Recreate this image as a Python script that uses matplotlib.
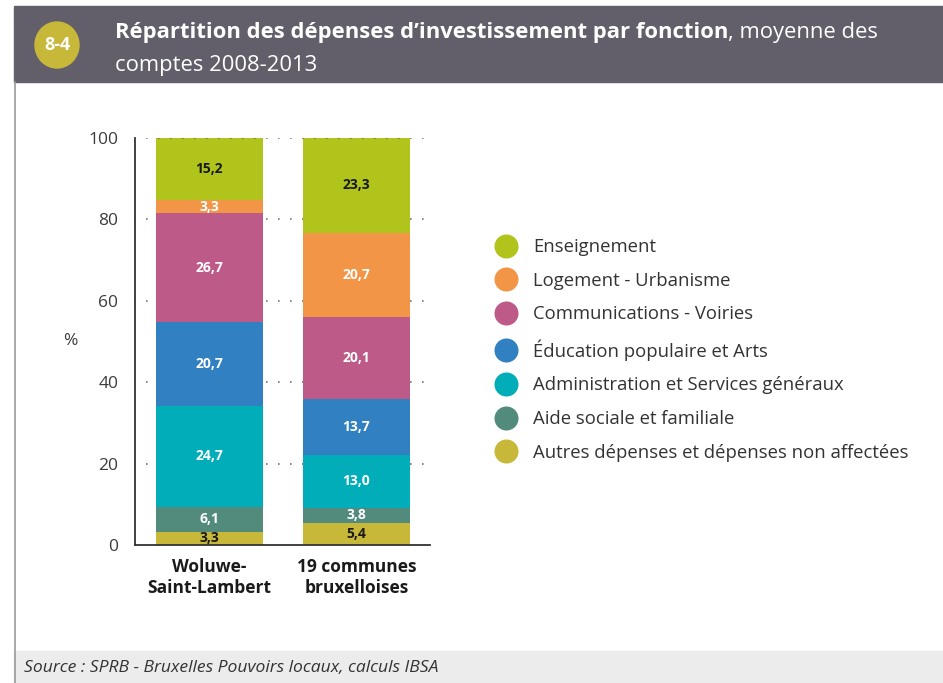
import matplotlib
matplotlib.use("Agg")
import matplotlib.pyplot as plt
from matplotlib import font_manager
from matplotlib.patches import Rectangle, Ellipse
from matplotlib.lines import Line2D
import numpy as np

# ---------------- data ----------------
categories = ["Woluwe-\nSaint-Lambert", "19 communes\nbruxelloises"]
series_names = [
    "Autres dépenses et dépenses non affectées",
    "Aide sociale et familiale",
    "Administration et Services généraux",
    "Éducation populaire et Arts",
    "Communications - Voiries",
    "Logement - Urbanisme",
    "Enseignement",
]
autres = [3.3, 5.4]
aide_sociale = [6.1, 3.8]
administration = [24.7, 13.0]
education = [20.7, 13.7]
communications = [26.7, 20.1]
logement = [3.3, 20.7]
enseignement = [15.2, 23.3]
yticks = [0, 20, 40, 60, 80, 100]

series_values = [autres, aide_sociale, administration, education,
                 communications, logement, enseignement]
colors = ["#c8b83a", "#528b7c", "#00adb8", "#3180c2",
          "#bd5a88", "#f29546", "#b1c41c"]
label_colors = ["#1a1a1a", "white", "white", "white", "white", "white", "#1a1a1a"]

# ---------------- fonts ----------------
available = {f.name for f in font_manager.fontManager.ttflist}
base = "Open Sans" if "Open Sans" in available else "DejaVu Sans"
narrow = "Liberation Sans Narrow" if "Liberation Sans Narrow" in available else base
plt.rcParams["font.family"] = [base, "DejaVu Sans"]

W, H = 943, 683
fig = plt.figure(figsize=(W / 100, H / 100), dpi=100)
fig.patch.set_facecolor("white")
renderer = fig.canvas.get_renderer()


def fx(px):
    return px / W


def fy(py):
    return 1 - py / H


def fit_text(x, y, s, target_w, **kw):
    t = fig.text(x, y, s, fontsize=10, **kw)
    w = t.get_window_extent(renderer).width
    t.set_fontsize(10 * target_w / w)
    return t


# ---------------- frame / header / footer ----------------
fig.add_artist(Rectangle((fx(14), fy(82)), 1 - fx(14), 76 / H,
                         transform=fig.transFigure, color="#625f6b", zorder=0))
fig.add_artist(Rectangle((fx(14), 0), 1 - fx(14), 32 / H,
                         transform=fig.transFigure, color="#ebeceb", zorder=0))
fig.add_artist(Line2D([fx(14.5), fx(14.5)], [0, fy(82)], transform=fig.transFigure,
                      color="#9a9a9a", lw=1.2))
fig.add_artist(Ellipse((fx(57), fy(45)), 44 / W, 46 / H,
                       transform=fig.transFigure, color="#c8b83a"))
fig.text(fx(57), fy(45), "8-4", ha="center", va="center", color="white",
         fontsize=13, fontweight="bold", family=[narrow, "DejaVu Sans"])

t1 = fit_text(fx(115), fy(38), "Répartition des dépenses d\u2019investissement par fonction", 612,
              color="white", fontweight="bold", va="baseline", family=[narrow, "DejaVu Sans"])
fs_title = t1.get_fontsize()
ext = t1.get_window_extent(renderer)
fig.text(fx(ext.x1), fy(38), ", moyenne des", color="white", fontsize=fs_title,
         va="baseline", family=[narrow, "DejaVu Sans"])
fig.text(fx(115), fy(71), "comptes 2008-2013", color="white", fontsize=fs_title,
         va="baseline", family=[narrow, "DejaVu Sans"])

fit_text(fx(24), fy(668), "Source : SPRB - Bruxelles Pouvoirs locaux, calculs IBSA", 415,
         color="#333333", style="italic", va="center", family=[narrow, "DejaVu Sans"])

# ---------------- chart ----------------
ax = fig.add_axes([fx(135), fy(545), 295 / W, 407 / H])
x = np.arange(len(categories))
bottom = np.zeros(len(categories))
for vals, col, lcol in zip(series_values, colors, label_colors):
    bars = ax.bar(x, vals, bottom=bottom, width=0.728, color=col, linewidth=0, zorder=2)
    ax.bar_label(bars, labels=[f"{v:.1f}".replace(".", ",") for v in vals],
                 label_type="center", color=lcol, fontsize=10, fontweight="bold")
    bottom += np.array(vals)

for yv in yticks[1:]:
    ax.axhline(yv, color="#555555", lw=1.2, linestyle=(0.5, (0.8, 6.4)),
               zorder=3 if yv == 100 else 1)

ax.set_xlim(-0.507, 1.5)
ax.set_ylim(0, 100)
ax.set_yticks(yticks)
ax.set_yticklabels([str(v) for v in yticks])
ax.set_xticks(x)
ax.set_xticklabels(categories, fontsize=12.5, fontweight="bold", color="#1a1a1a",
                   linespacing=1.25)
ax.tick_params(axis="y", length=0, pad=12, labelsize=12.5, labelcolor="#3c3c3c")
ax.tick_params(axis="x", length=0, pad=9)
for s in ["top", "right"]:
    ax.spines[s].set_visible(False)
for s in ["left", "bottom"]:
    ax.spines[s].set_color("#333333")
    ax.spines[s].set_linewidth(1.3)
ax.set_facecolor("none")

fig.text(fx(70), fy(341), "%", fontsize=12.5, color="#3c3c3c", ha="center", va="center")

# ---------------- legend ----------------
handles = [Line2D([], [], marker="o", linestyle="none", markersize=17.3,
                  markerfacecolor=c, markeredgecolor="none")
           for c in colors[::-1]]
fig.legend(handles, series_names[::-1], loc="upper left",
           bbox_to_anchor=(fx(496.8), fy(238)), frameon=False, fontsize=13.3,
           borderpad=0, borderaxespad=0, handlelength=1.0, handletextpad=0.957,
           labelspacing=0.85, labelcolor="#333333")

fig.savefig("out.png", dpi=100)
